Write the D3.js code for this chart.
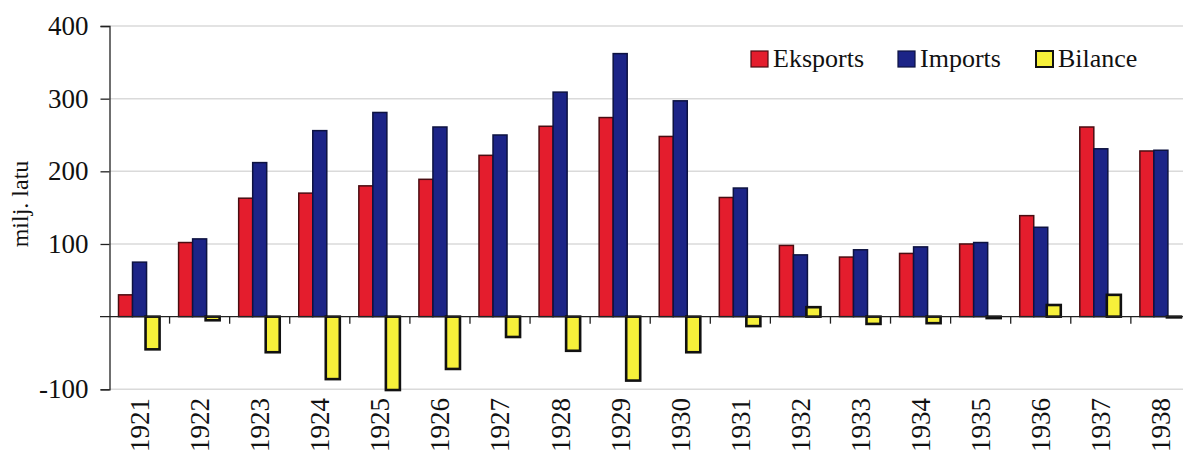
<!DOCTYPE html>
<html>
<head>
<meta charset="utf-8">
<script src="https://cdn.jsdelivr.net/npm/d3@7"></script>
<style>
  html, body { margin: 0; padding: 0; background: #fff; }
  svg { display: block; font-family: "Liberation Serif", "DejaVu Serif", serif; }
</style>
</head>
<body>
<svg id="chart" width="1183" height="463"></svg>
<script>
// Latvian foreign trade, million lats
const years = ["1921","1922","1923","1924","1925","1926","1927","1928","1929",
               "1930","1931","1932","1933","1934","1935","1936","1937","1938"];
const eksports = [30, 102, 163, 170, 180, 189, 222, 262, 274, 248, 164, 98, 82, 87, 100, 139, 261, 228];
const imports  = [75, 107, 212, 256, 281, 261, 250, 309, 362, 297, 177, 85, 92, 96, 102, 123, 231, 229];
const bilance  = [-45, -5, -49, -86, -101, -72, -28, -47, -88, -49, -13, 13, -10, -9, -2, 16, 30, -1];
const seriesNames = ["Eksports", "Imports", "Bilance"];
const yTicks = [-100, 100, 200, 300, 400];
const yGrid = [-100, 100, 200, 300, 400];
const yLabel = "milj. latu";

const fills   = { Eksports: "#e41d2d", Imports: "#1c2487", Bilance: "#f6f03a" };
const strokes = { Eksports: "#4a0d12", Imports: "#0d1240", Bilance: "#111" };
const strokeW = { Eksports: 1.5, Imports: 1.5, Bilance: 2.6 };

const svg = d3.select("#chart");

const plotLeft = 109.5;
const x = d3.scaleBand().domain(years).range([plotLeft, plotLeft + 18 * 60.08])
  .paddingInner(0.3).paddingOuter(0.15);
const xs = d3.scaleBand().domain(seriesNames).range([0, x.bandwidth()]);
const y = d3.scaleLinear().domain([-100, 400]).range([389.3, 26]);

// gridlines
svg.append("g").selectAll("line").data(yGrid).join("line")
  .attr("x1", plotLeft).attr("x2", 1183)
  .attr("y1", d => y(d)).attr("y2", d => y(d))
  .attr("stroke", "#dadada").attr("stroke-width", 1.5);

// bars
const rows = years.map((yr, i) => ({ year: yr, Eksports: eksports[i], Imports: imports[i], Bilance: bilance[i] }));
const groups = svg.append("g").selectAll("g").data(rows).join("g")
  .attr("transform", d => `translate(${x(d.year)},0)`);
groups.selectAll("rect")
  .data(d => seriesNames.map(k => ({ key: k, value: d[k] })))
  .join("rect")
  .attr("x", d => xs(d.key) + (d.key === "Bilance" ? -1 : 0))
  .attr("width", xs.bandwidth())
  .attr("y", d => y(Math.max(0, d.value)))
  .attr("height", d => Math.abs(y(d.value) - y(0)))
  .attr("fill", d => fills[d.key])
  .attr("stroke", d => strokes[d.key])
  .attr("stroke-width", d => strokeW[d.key]);

// zero line with category separators
svg.append("line").attr("x1", 100).attr("x2", 1183)
  .attr("y1", y(0)).attr("y2", y(0)).attr("stroke", "#222").attr("stroke-width", 1.3);
const step = x.step();
svg.append("g").selectAll("line").data(d3.range(1, 18)).join("line")
  .attr("x1", i => plotLeft + i * step).attr("x2", i => plotLeft + i * step)
  .attr("y1", y(0)).attr("y2", y(0) + 7)
  .attr("stroke", "#222").attr("stroke-width", 1.3);

// y axis
const yAxis = d3.axisLeft(y).tickValues(yTicks).tickSize(9).tickPadding(12)
  .tickFormat(d => String(d));
const ga = svg.append("g").attr("transform", `translate(${plotLeft},0)`).call(yAxis);
ga.select(".domain").attr("stroke", "#222").attr("stroke-width", 1.3);
ga.selectAll(".tick line").attr("stroke", "#222").attr("stroke-width", 1.3);
ga.selectAll("text").attr("font-size", 27).attr("fill", "#111")
  .attr("font-family", "Liberation Serif, serif");

svg.append("text")
  .attr("transform", "translate(28,204) rotate(-90)")
  .attr("text-anchor", "middle")
  .attr("font-size", 24).attr("fill", "#111")
  .text(yLabel);

// x labels
svg.append("g").selectAll("text").data(years).join("text")
  .attr("transform", d => `translate(${x(d) + x.bandwidth() / 2},398) rotate(-90)`)
  .attr("text-anchor", "end").attr("dy", "0.35em")
  .attr("font-size", 27).attr("fill", "#111")
  .text(d => d);

// legend
const legendPos = { Eksports: 751, Imports: 898, Bilance: 1036 };
const lg = svg.append("g").selectAll("g").data(seriesNames).join("g")
  .attr("transform", d => `translate(${legendPos[d]},51)`);
lg.append("rect").attr("width", 17).attr("height", 16)
  .attr("fill", d => fills[d]).attr("stroke", d => strokes[d])
  .attr("stroke-width", d => d === "Bilance" ? 2 : 1.2);
lg.append("text").attr("x", 22).attr("y", 16)
  .attr("font-size", 26).attr("fill", "#111")
  .text(d => d);
</script>
</body>
</html>
